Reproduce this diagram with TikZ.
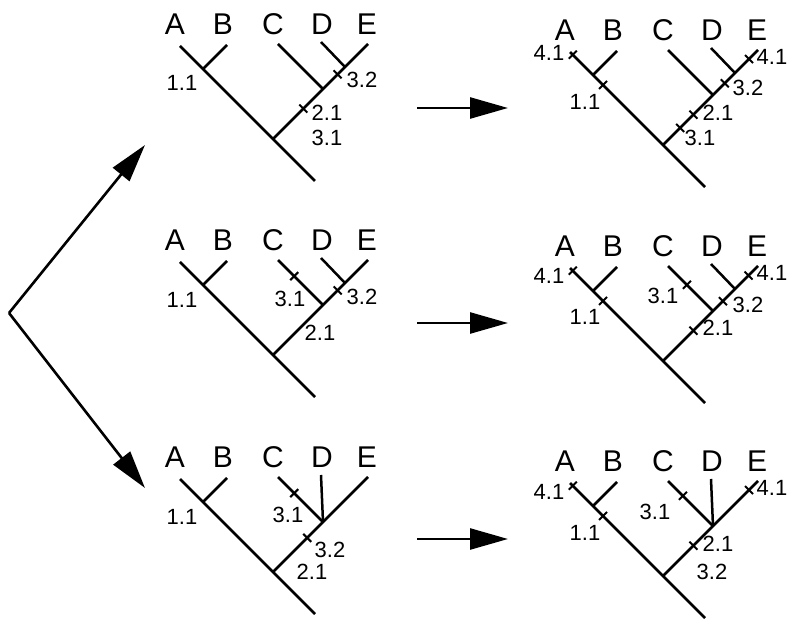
\documentclass[tikz,border=0pt]{standalone}
\usepackage{fontspec}
\setmainfont{Liberation Sans}
\usetikzlibrary{arrows.meta,calc,positioning}

\begin{document}
\begin{tikzpicture}[x=1pt,y=-1pt,
		branch/.style={line width=2.5pt},
		tick/.style={line width=2pt},
		taxon/.style={font=\fontsize{30}{32}\selectfont, inner sep=0pt},
		event/.style={font=\fontsize{22}{24}\selectfont, inner sep=0pt},
		bigarrow/.style={line width=2.6pt, -{Triangle[length=38pt,width=21pt]}},
		clade/.pic={
			\coordinate (-root) at (0,0);
			\coordinate (-a) at (-93,-93);
			\coordinate (-foot) at (42,42);
			\coordinate (-ab) at (-70,-70);
			\coordinate (-b) at (-46,-94);
			\coordinate (-cde) at (50,-50);
			\coordinate (-c) at (5,-95);
			\coordinate (-dj) at (72,-72);
			\coordinate (-d) at (48,-97);
			\coordinate (-e) at (95,-95);
			\draw[branch] (-a) -- (-foot);
			\draw[branch] (-ab) -- (-b);
			\draw[branch] (-root) -- (-e);
			\draw[branch] (-cde) -- (-c);
			\node[taxon] (-la) at (-98,-115) {A};
			\node[taxon] (-lb) at (-50,-115) {B};
			\node[taxon] (-lc) at (0,-115) {C};
			\node[taxon] (-ld) at (49,-115) {D};
			\node[taxon] (-le) at (94,-115) {E};
		}]
	\useasboundingbox (0,0) rectangle (788,620);

	% left column
	\pic (l1) at (273,139) {clade};
	\draw[branch] (l1-d) -- (l1-dj);
	\draw[tick] ($(l1-root)!.68!(l1-e)$) +(-4,-4) -- +(4,4);
	\draw[tick] ($(l1-root)!.32!(l1-e)$) +(-4,-4) -- +(4,4);
	\node[event] (l1-11) at ($(l1-root)+(-91,-56)$) {1.1};
	\node[event] (l1-32) at ($(l1-root)+(89,-59)$) {3.2};
	\node[event] (l1-21) at ($(l1-root)+(54,-26)$) {2.1};
	\node[event] (l1-31) at ($(l1-root)+(54,-1)$) {3.1};

	\pic (l2) at (273,355) {clade};
	\draw[branch] (l2-d) -- (l2-dj);
	\draw[tick] ($(l2-cde)!.64!(l2-c)$) +(-4,4) -- +(4,-4);
	\draw[tick] ($(l2-root)!.68!(l2-e)$) +(-4,-4) -- +(4,4);
	\node[event] (l2-11) at ($(l2-root)+(-91,-55)$) {1.1};
	\node[event] (l2-31) at ($(l2-root)+(17,-56)$) {3.1};
	\node[event] (l2-32) at ($(l2-root)+(89,-58)$) {3.2};
	\node[event] (l2-21) at ($(l2-root)+(47,-22)$) {2.1};

	\pic (l3) at (273,572) {clade};
	\draw[branch] (l3-d) -- (l3-cde);
	\draw[tick] ($(l3-cde)!.64!(l3-c)$) +(-4,4) -- +(4,-4);
	\draw[tick] ($(l3-root)!.36!(l3-e)$) +(-4,-4) -- +(4,4);
	\node[event] (l3-11) at ($(l3-root)+(-91,-55)$) {1.1};
	\node[event] (l3-31) at ($(l3-root)+(15,-57)$) {3.1};
	\node[event] (l3-32) at ($(l3-root)+(57,-22)$) {3.2};
	\node[event] (l3-21) at ($(l3-root)+(39,0)$) {2.1};

	% right column
	\pic (r1) at (663,145) {clade};
	\draw[branch] (r1-d) -- (r1-dj);
	\draw[tick] ($(r1-root)!.97!(r1-a)$) +(-4,4) -- +(4,-4);
	\draw[tick] ($(r1-root)!.645!(r1-a)$) +(-4,4) -- +(4,-4);
	\draw[tick] ($(r1-root)!.905!(r1-e)$) +(-4,-4) -- +(4,4);
	\draw[tick] ($(r1-root)!.65!(r1-e)$) +(-4,-4) -- +(4,4);
	\draw[tick] ($(r1-root)!.32!(r1-e)$) +(-4,-4) -- +(4,4);
	\draw[tick] ($(r1-root)!.18!(r1-e)$) +(-4,-4) -- +(4,4);
	\node[event] (r1-41a) at ($(r1-root)+(-114,-92)$) {4.1};
	\node[event] (r1-11) at ($(r1-root)+(-78,-43)$) {1.1};
	\node[event] (r1-41e) at ($(r1-root)+(109,-88)$) {4.1};
	\node[event] (r1-32) at ($(r1-root)+(85,-57)$) {3.2};
	\node[event] (r1-21) at ($(r1-root)+(55,-32)$) {2.1};
	\node[event] (r1-31) at ($(r1-root)+(37,-7)$) {3.1};

	\pic (r2) at (663,361) {clade};
	\draw[branch] (r2-d) -- (r2-dj);
	\draw[tick] ($(r2-root)!.97!(r2-a)$) +(-4,4) -- +(4,-4);
	\draw[tick] ($(r2-root)!.645!(r2-a)$) +(-4,4) -- +(4,-4);
	\draw[tick] ($(r2-cde)!.58!(r2-c)$) +(-4,4) -- +(4,-4);
	\draw[tick] ($(r2-root)!.9!(r2-e)$) +(-4,-4) -- +(4,4);
	\draw[tick] ($(r2-root)!.63!(r2-e)$) +(-4,-4) -- +(4,4);
	\draw[tick] ($(r2-root)!.32!(r2-e)$) +(-4,-4) -- +(4,4);
	\node[event] (r2-41a) at ($(r2-root)+(-114,-85)$) {4.1};
	\node[event] (r2-11) at ($(r2-root)+(-78,-44)$) {1.1};
	\node[event] (r2-31) at ($(r2-root)+(0,-65)$) {3.1};
	\node[event] (r2-41e) at ($(r2-root)+(109,-88)$) {4.1};
	\node[event] (r2-32) at ($(r2-root)+(85,-56)$) {3.2};
	\node[event] (r2-21) at ($(r2-root)+(55,-33)$) {2.1};

	\pic (r3) at (663,576) {clade};
	\draw[branch] (r3-d) -- (r3-cde);
	\draw[tick] ($(r3-root)!.97!(r3-a)$) +(-4,4) -- +(4,-4);
	\draw[tick] ($(r3-root)!.645!(r3-a)$) +(-4,4) -- +(4,-4);
	\draw[tick] ($(r3-cde)!.67!(r3-c)$) +(-4,4) -- +(4,-4);
	\draw[tick] ($(r3-root)!.905!(r3-e)$) +(-4,-4) -- +(4,4);
	\draw[tick] ($(r3-root)!.32!(r3-e)$) +(-4,-4) -- +(4,4);
	\node[event] (r3-41a) at ($(r3-root)+(-114,-84)$) {4.1};
	\node[event] (r3-11) at ($(r3-root)+(-78,-43)$) {1.1};
	\node[event] (r3-31) at ($(r3-root)+(-8,-64)$) {3.1};
	\node[event] (r3-41e) at ($(r3-root)+(109,-88)$) {4.1};
	\node[event] (r3-21) at ($(r3-root)+(55,-32)$) {2.1};
	\node[event] (r3-32) at ($(r3-root)+(49,-4)$) {3.2};

	% arrows
	\coordinate (fork) at (9,313);
	\coordinate (fork-up) at (145,145);
	\coordinate (fork-down) at (145,488);
	\draw[bigarrow] (fork) -- (fork-up);
	\draw[bigarrow] (fork) -- (fork-down);
	\coordinate (go1) at (417,108);
	\coordinate (to1) at (508,108);
	\coordinate (go2) at (417,323);
	\coordinate (to2) at (508,323);
	\coordinate (go3) at (417,539);
	\coordinate (to3) at (508,539);
	\draw[bigarrow] (go1) -- (to1);
	\draw[bigarrow] (go2) -- (to2);
	\draw[bigarrow] (go3) -- (to3);
\end{tikzpicture}
\end{document}
